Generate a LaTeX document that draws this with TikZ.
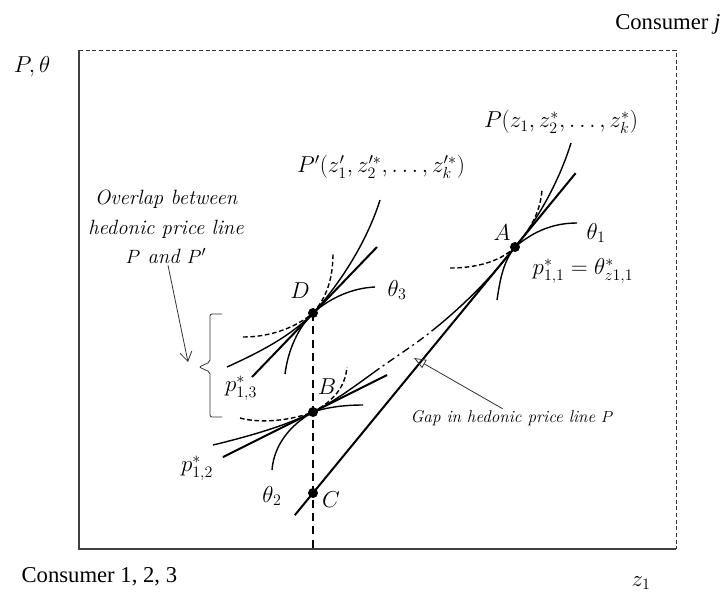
\documentclass[tikz,border=0pt]{standalone}
\usepackage{fontspec}
\newfontfamily\tnr{Liberation Serif}
\usetikzlibrary{calc, arrows.meta}

\begin{document}
\begin{tikzpicture}[x=0.75pt, y=-0.75pt,
    lbl/.style={font=\fontsize{17}{20}\selectfont, inner sep=1pt},
    note/.style={font=\fontsize{15.5}{22}\selectfont\itshape, align=center, inner sep=1pt},
    axis/.style={black!75, line width=0.9pt},
    frame/.style={black!80, line width=0.6pt, dash pattern=on 3pt off 2pt},
    tline/.style={line width=1.5pt},
    crv/.style={line width=1.05pt},
    dcrv/.style={line width=1.05pt, dash pattern=on 3.5pt off 2pt},
    gapline/.style={line width=1pt, dash pattern=on 6pt off 3pt on 1.5pt off 3pt},
    vdash/.style={line width=1.4pt, dash pattern=on 6pt off 4pt},
    dot/.style={circle, fill, inner sep=0pt, minimum size=7.5pt},
    arr/.style={black!80, line width=0.6pt}]
  \useasboundingbox (0,0) rectangle (723,594);

  % frame
  \coordinate (O) at (79,549);
  \coordinate (TL) at (79,50);
  \coordinate (TR) at (676,50);
  \coordinate (BR) at (676,549);
  \draw[axis] (TL) -- (O) -- (BR);
  \draw[frame] (TL) -- (TR) -- (BR);

  % points
  \coordinate (A) at (515,247);
  \coordinate (D) at (313,313);
  \coordinate (B) at (313,412);
  \coordinate (C) at (313,493);

  \draw[vdash] (D) -- (D |- O);

  % tangent lines
  \draw[tline] ($(C)!-0.09!(A)$) -- ($(C)!1.3!(A)$);
  \draw[tline] ($(B)+(-90,45)$) -- ($(B)+(74,-37)$);
  \draw[tline] ($(D)+(-61,64)$) -- ($(D)+(64,-66)$);

  % hedonic price line P, with the gap
  \draw[crv] (213,445) .. controls (250,436) and (285,426) .. (B)
    .. controls (335,401) and (355,386) .. (373,373);
  \draw[gapline] (373,373) .. controls (395,357) and (416,344) .. (433,330);
  \draw[crv] (433,330) .. controls (463,306) and (492,277) .. (A)
    .. controls (535,223) and (558,185) .. (571,143);

  % hedonic price line P'
  \draw[crv] (227,367) .. controls (260,352) and (291,336) .. (D)
    .. controls (333,292) and (365,248) .. (380,200);

  % curves at D
  \draw[dcrv] (243,337) .. controls (270,337) and (295,328) .. (D);
  \draw[crv] (D) .. controls (330,298) and (352,288) .. (375,287);
  \draw[crv] (285,374) .. controls (288,350) and (298,328) .. (D);
  \draw[dcrv] (D) .. controls (326,298) and (333,280) .. (333,253);

  % curves at A
  \draw[crv] (497,300) .. controls (500,280) and (503,262) .. (A);
  \draw[dcrv] (A) .. controls (528,232) and (540,215) .. (542,190);
  \draw[dcrv] (450,268) .. controls (475,268) and (500,262) .. (A);
  \draw[crv] (A) .. controls (535,230) and (555,223) .. (577,223);

  % curves at B
  \draw[crv] (272,470) .. controls (274,445) and (290,425) .. (B);
  \draw[dcrv] (B) .. controls (333,401) and (345,388) .. (347,367);
  \draw[dcrv] (240,418) .. controls (262,424) and (292,420) .. (B);
  \draw[crv] (B) .. controls (328,407) and (345,405) .. (363,405);

  % brace
  \draw[arr, rounded corners=1.5pt] (222,314) -- (210,314) -- (210,362) -- (199,367)
    -- (210,372) -- (210,417) -- (222,417);

  \node[dot] (dA) at (A) {};
  \node[dot] (dD) at (D) {};
  \node[dot] (dB) at (B) {};
  \node[dot] (dC) at (C) {};

  % labels
  \node[lbl, anchor=east] (cj) at (722,24) {\tnr Consumer \itshape j};
  \node[lbl] (pth) at (32,67) {$P,\theta$};
  \node[lbl, anchor=west] (c123) at (20,577) {\tnr Consumer 1, 2, 3};
  \node[lbl] (z1) at (641,583) {$z_1$};
  \node[lbl] (Plab) at (561,122) {$P(z_1, z_2^*, \dots, z_k^*)$};
  \node[lbl] (Pplab) at (381,167) {$P'(z_1^{\prime}, z_2^{\prime *}, \dots, z_k^{\prime *})$};
  \node[lbl] (lA) at (502,233) {$A$};
  \node[lbl] (lt1) at (596,233) {$\theta_1$};
  \node[lbl] (lp11) at (583,271) {$p_{1,1}^* = \theta_{z1,1}^*$};
  \node[lbl] (lD) at (300,291) {$D$};
  \node[lbl] (lt3) at (397,290) {$\theta_3$};
  \node[lbl] (lB) at (327,387) {$B$};
  \node[lbl] (lp13) at (241,388) {$p_{1,3}^*$};
  \node[lbl] (lp12) at (197,468) {$p_{1,2}^*$};
  \node[lbl] (lt2) at (272,496) {$\theta_2$};
  \node[lbl] (lC) at (331,500) {$C$};
  \node[note, font=\fontsize{12.8}{16}\selectfont\itshape] (gap) at (512,418) {Gap in hedonic price line $P$};
  \node[note] (ovl) at (166,227) {Overlap between\\hedonic price line\\$P$ and $P'$};

  % pointers
  \coordinate (gaptip) at (414,358);
  \coordinate (ovltip) at (188,362);
  \draw[arr, -{Triangle[open, length=9pt, width=7pt]}] ([xshift=-7pt]gap.north) -- (gaptip);
  \draw[arr, -{Straight Barb[length=7pt, width=9pt]}] ([xshift=1.5pt]ovl.south) -- (ovltip);
\end{tikzpicture}
\end{document}
